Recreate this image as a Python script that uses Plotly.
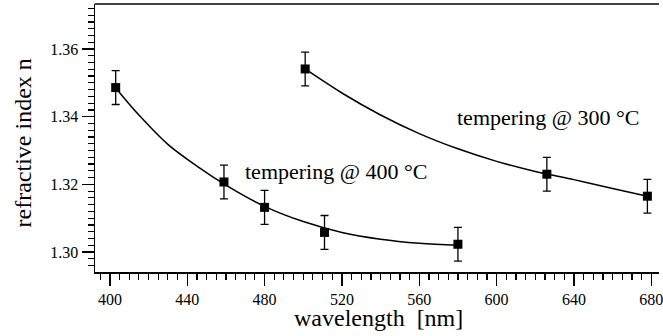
import plotly.graph_objects as go

# measured points, tempering @ 400 °C
wl_400 = [403, 459, 480, 511, 580]
n_400 = [1.3486, 1.3207, 1.3132, 1.3058, 1.3023]
err_400 = [0.005, 0.005, 0.005, 0.005, 0.005]

# measured points, tempering @ 300 °C
wl_300 = [501, 626, 678]
n_300 = [1.3541, 1.3230, 1.3165]
err_300 = [0.005, 0.005, 0.005]

# fitted curves
fit_wl_400 = [403, 415, 430, 445, 460, 480, 500, 520, 540, 560, 580]
fit_n_400 = [1.3485, 1.3405, 1.3318, 1.3254, 1.3198, 1.3135, 1.3090, 1.3058, 1.3038, 1.3026, 1.3020]
fit_wl_300 = [501, 520, 540, 560, 580, 600, 620, 640, 660, 678]
fit_n_300 = [1.3541, 1.3470, 1.3405, 1.3350, 1.3305, 1.3268, 1.3238, 1.3214, 1.3188, 1.3165]

x_ticks = [400, 440, 480, 520, 560, 600, 640, 680]
y_ticks = [1.30, 1.32, 1.34, 1.36]
y_tick_text = ["1.30", "1.32", "1.34", "1.36"]

FONT = "Liberation Serif"

fig = go.Figure()
for fx, fy in [(fit_wl_400, fit_n_400), (fit_wl_300, fit_n_300)]:
    fig.add_trace(go.Scatter(x=fx, y=fy, mode="lines",
                             line=dict(color="black", width=1.5, shape="spline", smoothing=1.0),
                             showlegend=False, hoverinfo="skip"))
for px, py, pe in [(wl_400, n_400, err_400), (wl_300, n_300, err_300)]:
    fig.add_trace(go.Scatter(x=px, y=py, mode="markers",
                             marker=dict(symbol="square", size=9, color="black"),
                             error_y=dict(type="data", array=pe, visible=True,
                                          color="black", thickness=1.3, width=4),
                             showlegend=False))

fig.add_annotation(x=517, y=1.3237, xref="x", yref="y", text="tempering @ 400 °C",
                   showarrow=False, xanchor="center", yanchor="middle",
                   font=dict(family=FONT, size=22, color="black"))
fig.add_annotation(x=626.5, y=1.3399, xref="x", yref="y", text="tempering @ 300 °C",
                   showarrow=False, xanchor="center", yanchor="middle",
                   font=dict(family=FONT, size=22, color="black"))

fig.add_annotation(x=-0.127, y=0.481, xref="paper", yref="paper", text="refractive index n",
                   textangle=-90, showarrow=False, xanchor="center", yanchor="middle",
                   font=dict(family=FONT, size=24, color="black"))
fig.add_annotation(x=0.5035, y=-0.172, xref="paper", yref="paper", text="wavelength  [nm]",
                   showarrow=False, xanchor="center", yanchor="middle",
                   font=dict(family=FONT, size=24, color="black"))

# top frame line
fig.add_shape(type="line", xref="paper", yref="paper", x0=0, x1=1, y0=1, y1=1,
              line=dict(color="black", width=1.5))

fig.update_layout(
    width=663, height=336,
    margin=dict(l=95, r=0, t=4, b=64),
    plot_bgcolor="white", paper_bgcolor="white",
    hovermode=False,
    font=dict(family=FONT, size=16, color="black"),
    xaxis=dict(range=[392.3, 684], tickvals=x_ticks, ticks="outside", ticklen=12,
               tickwidth=1.3, tickcolor="black", showline=True, linecolor="black",
               linewidth=1.5, showgrid=False, zeroline=False, showspikes=False,
               ticklabeloverflow="allow",
               minor=dict(dtick=5, tick0=400, ticks="outside", ticklen=6,
                          tickwidth=1.2, tickcolor="black", showgrid=False),
               tickfont=dict(family=FONT, size=16)),
    yaxis=dict(range=[1.2941, 1.3733], tickvals=y_ticks, ticktext=y_tick_text,
               ticks="outside", ticklen=12, tickwidth=1.3, tickcolor="black",
               showline=True, linecolor="black", linewidth=1.5, showgrid=False,
               zeroline=False, showspikes=False,
               minor=dict(dtick=0.002, tick0=1.30, ticks="outside", ticklen=6,
                          tickwidth=1.2, tickcolor="black", showgrid=False),
               tickfont=dict(family=FONT, size=16)),
)

fig.write_html(
    "out.html",
    config={"displayModeBar": False, "staticPlot": True},
    post_script=("document.body.style.margin='0';"
                 "document.body.style.overflow='hidden';"
                 "document.documentElement.style.overflow='hidden';"),
)
